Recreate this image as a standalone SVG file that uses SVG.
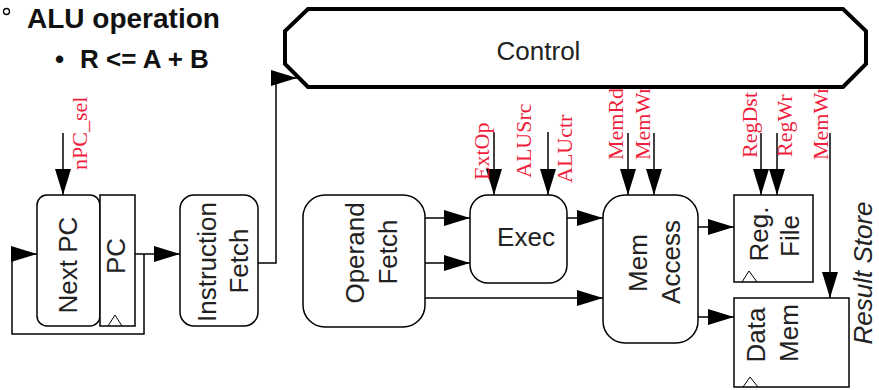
<svg xmlns="http://www.w3.org/2000/svg" width="879" height="390" viewBox="0 0 879 390">
<style>
.box{fill:#fff;stroke:#000;stroke-width:1.5}
.lbl{font-family:"Liberation Sans",Arial,sans-serif;font-size:26px;fill:#222;text-anchor:middle}
.sig{font-family:"Liberation Serif","Times New Roman",serif;font-size:22px;fill:#f01e3c}
.wire{fill:none;stroke:#000;stroke-width:1.5}
.arr{marker-end:url(#ah)}
.clk{fill:none;stroke:#000;stroke-width:1}
</style>
<defs>
<marker id="ah" viewBox="0 0 26 16" refX="26" refY="8" markerWidth="26" markerHeight="16" markerUnits="userSpaceOnUse" orient="auto">
<path d="M0,0 L26,8 L0,16 Z" fill="#000"/>
</marker>
</defs>
<rect width="879" height="390" fill="#fff"/>
<g id="title">
<circle cx="6.5" cy="11.5" r="3" fill="none" stroke="#000" stroke-width="1.3"/>
<text x="27" y="28" font-family="'Liberation Sans',Arial,sans-serif" font-size="28" font-weight="bold" fill="#111">ALU operation</text>
<text x="55" y="68" font-family="'Liberation Sans',Arial,sans-serif" font-size="26" font-weight="bold" fill="#111">•</text>
<text x="80" y="68" font-family="'Liberation Sans',Arial,sans-serif" font-size="26" font-weight="bold" fill="#111">R &lt;= A + B</text>
</g>
<g id="connectors">
<path class="wire arr" d="M63,133 V195"/>
<path class="wire arr" d="M135,254 H180"/>
<path class="wire arr" d="M144,254 V334 H12 V254 H37"/>
<path class="wire arr" d="M258,263 H276 V78 H297"/>
<path class="wire arr" d="M425,218 H470"/>
<path class="wire arr" d="M425,263 H470"/>
<path class="wire arr" d="M425,298 H603"/>
<path class="wire arr" d="M567,218 H603"/>
<path class="wire arr" d="M494,132 V195"/>
<path class="wire arr" d="M548,132 V195"/>
<path class="wire arr" d="M628,133 V195"/>
<path class="wire arr" d="M654,133 V195"/>
<path class="wire arr" d="M698,227 H734"/>
<path class="wire arr" d="M698,317 H734"/>
<path class="wire arr" d="M761,133 V195"/>
<path class="wire arr" d="M777,133 V195"/>
<path class="wire arr" d="M830,133 V298"/>
<text class="sig" transform="translate(87,170) rotate(-90)">nPC_sel</text>
<text class="sig" transform="translate(489,180) rotate(-90)">ExtOp</text>
<text class="sig" transform="translate(531,178) rotate(-90)">ALUSrc</text>
<text class="sig" transform="translate(572,183) rotate(-90)">ALUctr</text>
<text class="sig" transform="translate(623,160) rotate(-90)">MemRd</text>
<text class="sig" transform="translate(650,160) rotate(-90)">MemWr</text>
<text class="sig" transform="translate(757,158) rotate(-90)">RegDst</text>
<text class="sig" transform="translate(792,157) rotate(-90)">RegWr</text>
<text class="sig" transform="translate(828,160) rotate(-90)">MemWr</text>
</g>
<g id="control">
<polygon points="308,9 843,9 866,31 866,64 843,87 308,87 285,64 285,31" fill="#fff" stroke="#000" stroke-width="4"/>
<text class="lbl" x="538.5" y="60">Control</text>
</g>
<g id="nextpc">
<rect class="box" x="37" y="195" width="63" height="131" rx="10"/>
<text class="lbl" transform="translate(77,265) rotate(-90)">Next PC</text>
</g>
<g id="pc">
<rect class="box" x="100" y="195" width="35" height="131"/>
<polyline class="clk" points="108,326 115,315 122,326"/>
<text class="lbl" transform="translate(125,256) rotate(-90)">PC</text>
</g>
<g id="ifetch">
<rect class="box" x="180" y="195" width="78" height="131" rx="14"/>
<text class="lbl" transform="translate(216,262) rotate(-90)">Instruction</text>
<text class="lbl" transform="translate(248,261) rotate(-90)">Fetch</text>
</g>
<g id="ofetch">
<rect class="box" x="303" y="195" width="122" height="132" rx="22"/>
<text class="lbl" transform="translate(364,253) rotate(-90)">Operand</text>
<text class="lbl" transform="translate(397,252) rotate(-90)">Fetch</text>
</g>
<g id="exec">
<rect class="box" x="470" y="195" width="97" height="88" rx="18"/>
<text class="lbl" x="526" y="246">Exec</text>
</g>
<g id="memaccess">
<rect class="box" x="603" y="195" width="95" height="148" rx="22"/>
<text class="lbl" transform="translate(647,263) rotate(-90)">Mem</text>
<text class="lbl" transform="translate(680,262) rotate(-90)">Access</text>
</g>
<g id="regfile">
<rect class="box" x="734" y="195" width="79" height="87"/>
<polyline class="clk" points="742,282 749,271 757,282"/>
<text class="lbl" transform="translate(768,234) rotate(-90)">Reg.</text>
<text class="lbl" transform="translate(799,236) rotate(-90)">File</text>
</g>
<g id="datamem">
<rect class="box" x="734" y="298" width="115" height="89"/>
<polyline class="clk" points="743,387 750,377 758,387"/>
<text class="lbl" transform="translate(765,335) rotate(-90)">Data</text>
<text class="lbl" transform="translate(798,333) rotate(-90)">Mem</text>
</g>
<g id="resultstore">
<text class="lbl" font-size="25" font-style="italic" transform="translate(872,273) rotate(-90)">Result Store</text>
</g>
</svg>
